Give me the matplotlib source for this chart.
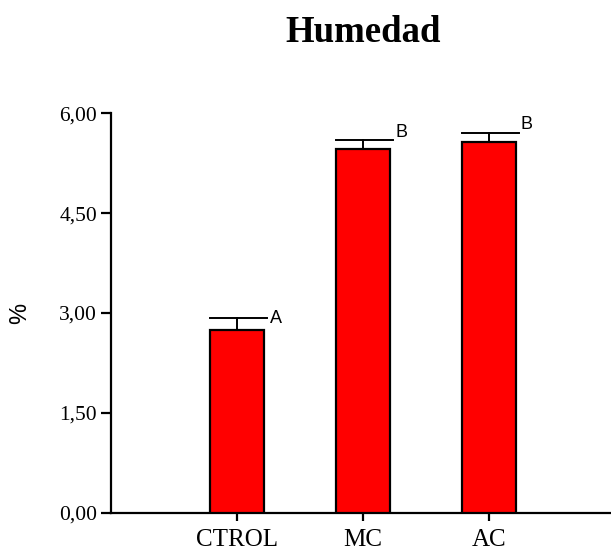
#! /usr/bin/env python

# bar chart of moisture (%) per treatment, with SD whiskers and group letters
import numpy as np
import matplotlib
matplotlib.use("Agg")
import matplotlib.pyplot as plt

categories = ["CTROL", "MC", "AC"]
means = [2.74, 5.46, 5.57]
sds = [0.18, 0.14, 0.14]
groups = ["A", "B", "B"]
yticks = [0.0, 1.5, 3.0, 4.5, 6.0]

if __name__ == "__main__":

    fig = plt.figure(figsize=(6.11, 5.51), dpi=100)
    ax = fig.add_axes([111/611, 1 - 512.7/551, 1 - 111/611, (512.7 - 113.3)/551])

    x = np.arange(1, len(categories) + 1)
    width = 0.43

    ax.bar(x, means, width, color="#ff0000", edgecolor="black", linewidth=1.6, zorder=3)

    # upper whisker only, cap runs from bar's left edge past its right edge
    for xi, m, s, g in zip(x, means, sds, groups):
        top = m + s
        ax.plot([xi, xi], [m, top], color="black", lw=1.4, zorder=2)
        ax.plot([xi - width/2, xi + width/2 + 0.025], [top, top], color="black", lw=1.4, zorder=2)
        if g == "A":
            ax.text(xi + width/2 + 0.05, top, g, ha="left", va="center",
                    family="Liberation Sans", fontsize=13)
        else:
            ax.text(xi + width/2 + 0.04, top - 0.01, g, ha="left", va="bottom",
                    family="Liberation Sans", fontsize=13)

    ax.set_xlim(0, 3.97)
    ax.set_ylim(0, 6)
    ax.set_xticks(x)
    ax.set_xticklabels(categories, family="Liberation Serif", fontsize=18)
    ax.set_yticks(yticks)
    ax.set_yticklabels([("%.2f" % v).replace(".", ",") for v in yticks],
                       family="Liberation Serif", fontsize=15.5)

    ax.spines["top"].set_visible(False)
    ax.spines["right"].set_visible(False)
    ax.spines["left"].set_linewidth(1.6)
    ax.spines["bottom"].set_linewidth(1.6)
    ax.tick_params(axis="y", direction="out", length=7, width=1.6, pad=3)
    ax.tick_params(axis="x", direction="out", length=6, width=1.6, pad=6)

    fig.text(20/611, 1 - 313/551, "%", rotation=90, ha="center", va="center",
             family="Liberation Sans", fontsize=17)
    fig.text(363/611, 1 - 42/551, "Humedad", ha="center", va="baseline",
             family="Liberation Serif", fontweight="bold", fontsize=26.5)

    fig.savefig("out.png", dpi=100)
